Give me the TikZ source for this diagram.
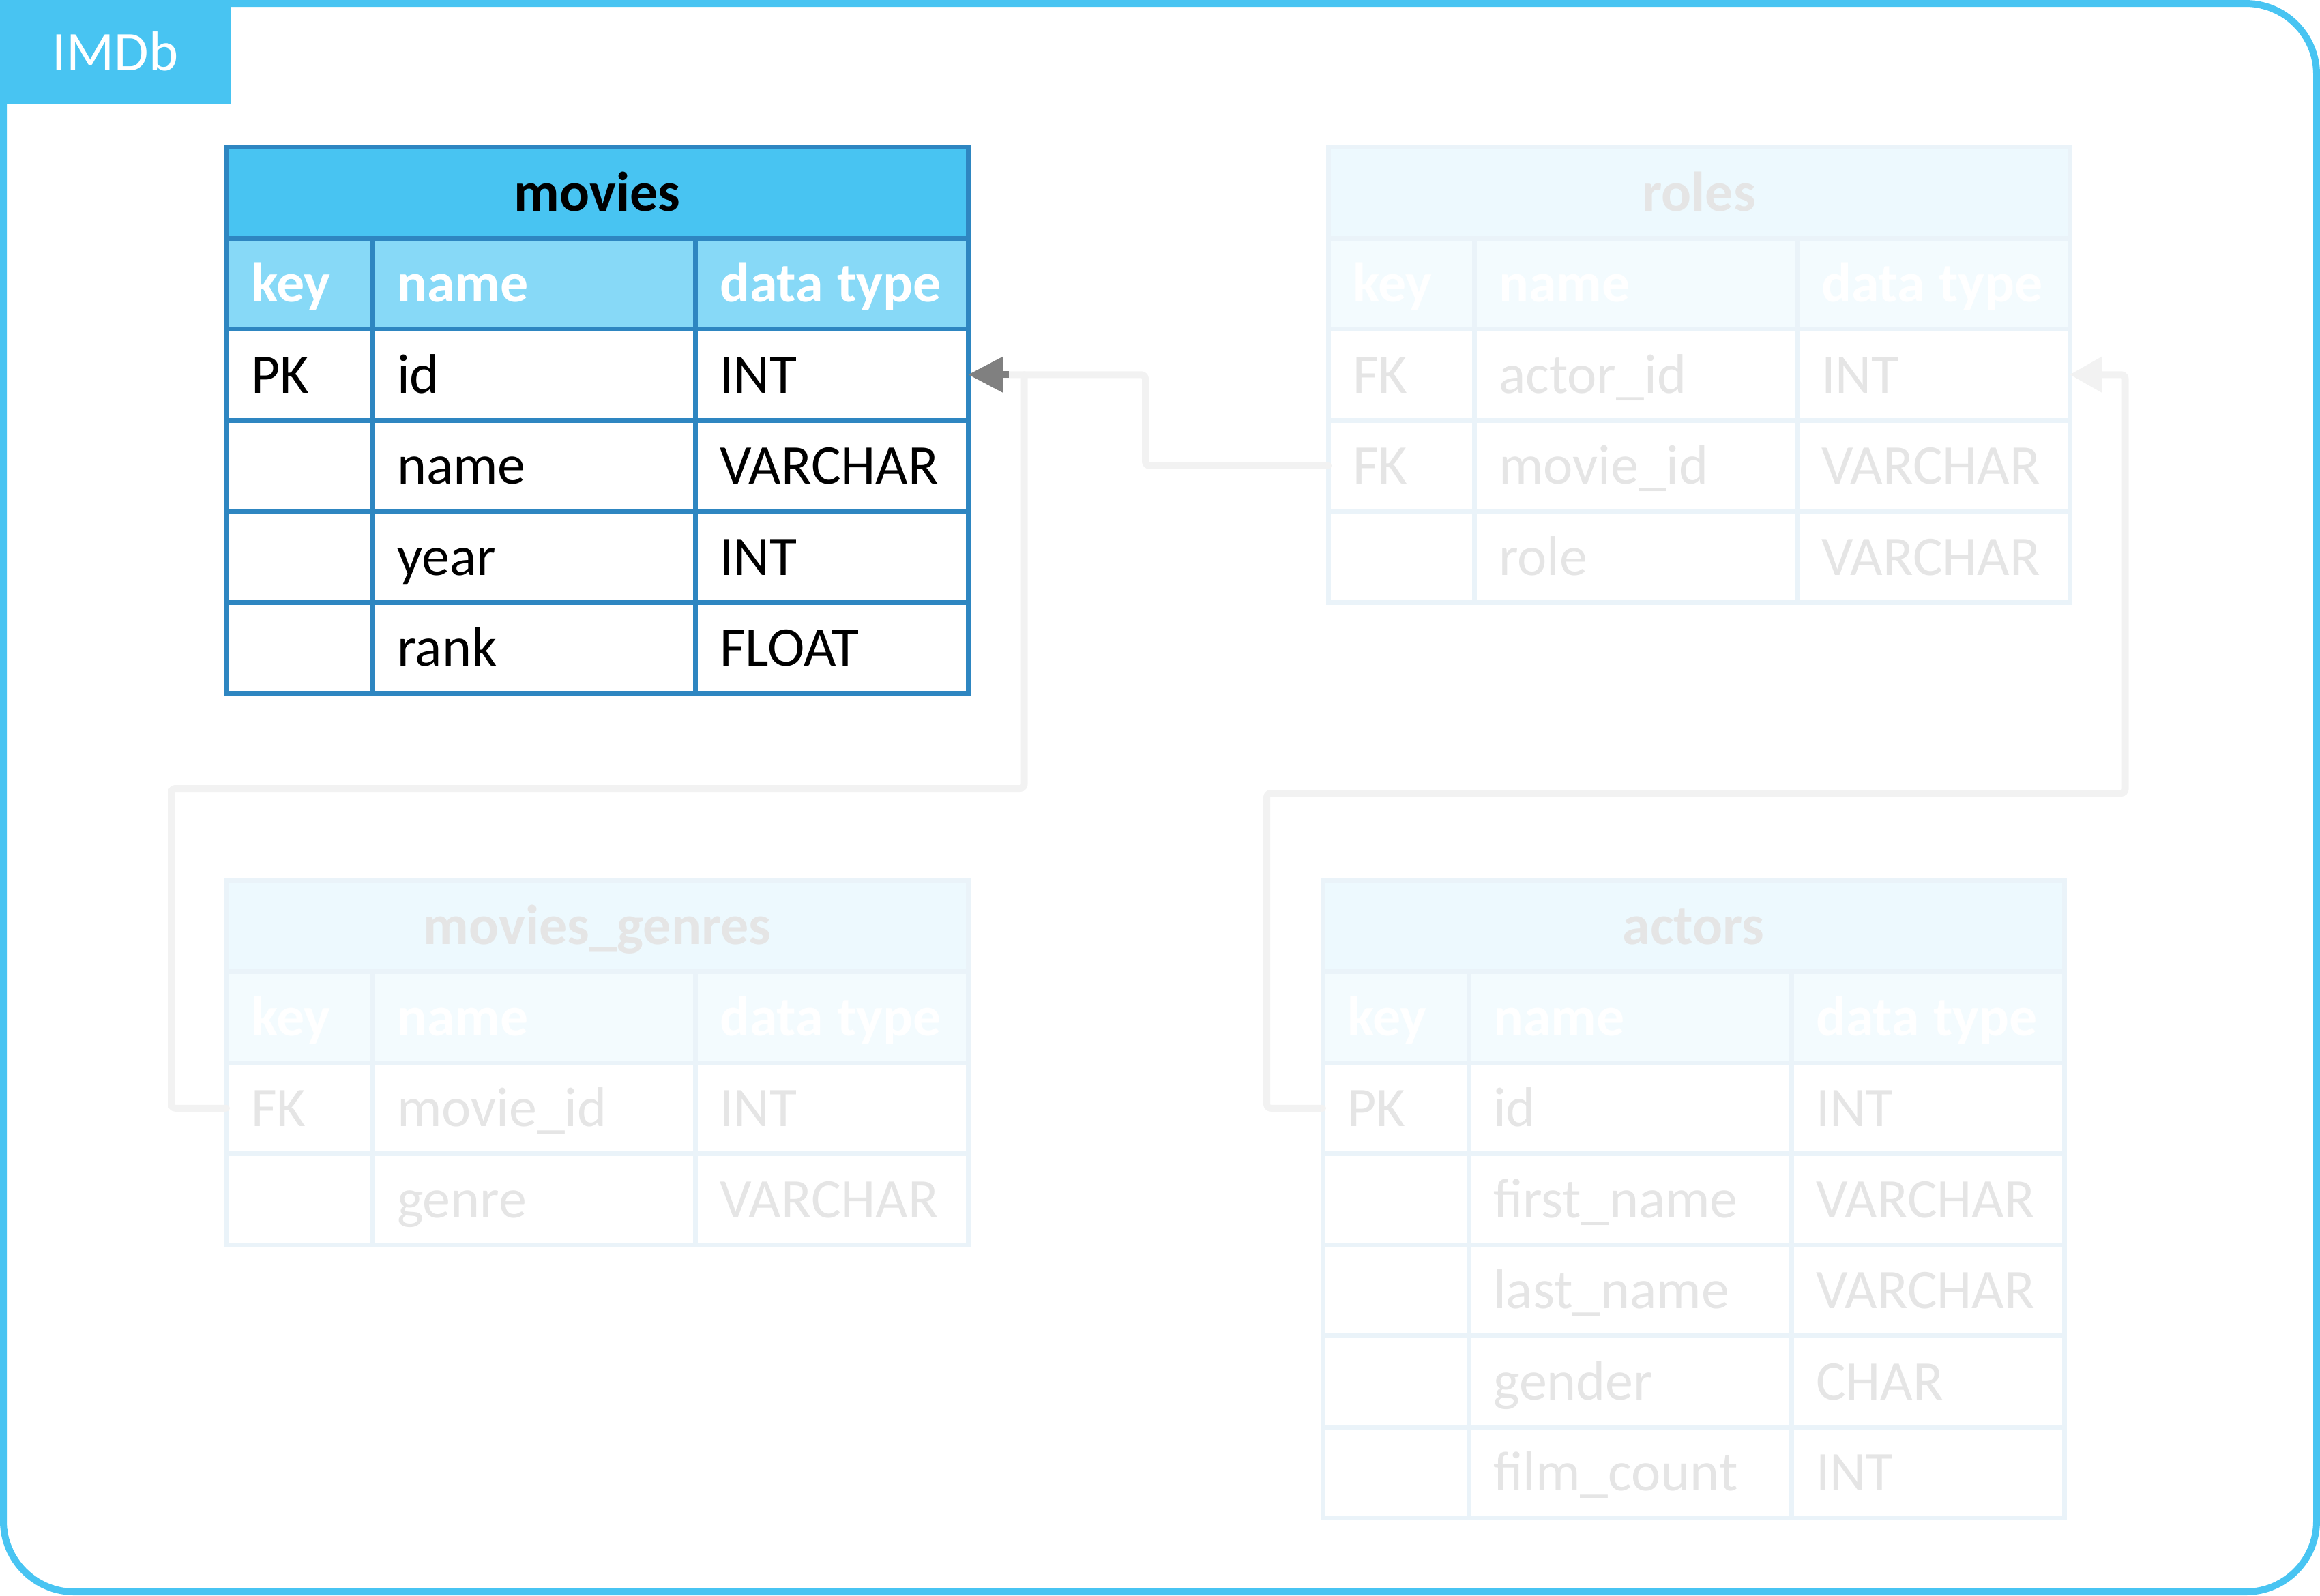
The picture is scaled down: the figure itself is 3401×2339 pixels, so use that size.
\documentclass[tikz,border=0pt]{standalone}
\usepackage{fontspec}
\setmainfont{Carlito}
\usetikzlibrary{arrows.meta}
\definecolor{bordblue}{RGB}{46,134,193}
\definecolor{titlefill}{RGB}{72,196,242}
\definecolor{headfill}{RGB}{135,217,247}
\definecolor{framecol}{RGB}{72,196,242}
\definecolor{arrowgrey}{RGB}{128,128,128}
\definecolor{linkgrey}{RGB}{242,242,242}
\colorlet{fbord}{bordblue!10!white}
\colorlet{ftitle}{titlefill!10!white}
\colorlet{fhead}{headfill!10!white}
\colorlet{ftext}{black!10!white}
\newcommand{\dfont}{\fontsize{20.5pt}{24pt}\selectfont}
\tikzset{
  cellbase/.style={draw, line width=1.75pt, anchor=north west, minimum height=33.375pt,
    inner xsep=9pt, inner ysep=0pt, outer sep=0pt, text height=14.5pt, text depth=1pt, font=\dfont},
  keycol/.style={text width=35.5pt, align=left},
  namecol/.style={text width=100.25pt, align=left},
  typecol/.style={text width=82pt, align=left},
  titlecol/.style={text width=253.75pt, align=center},
  titleA/.style={draw=bordblue, fill=titlefill, text=black, font=\dfont\bfseries},
  headA/.style={draw=bordblue, fill=headfill, text=white, font=\dfont\bfseries},
  bodyA/.style={draw=bordblue, fill=white, text=black},
  titleB/.style={draw=fbord, fill=ftitle, text=ftext, font=\dfont\bfseries},
  headB/.style={draw=fbord, fill=fhead, text=white, font=\dfont\bfseries},
  bodyB/.style={draw=fbord, fill=white, text=ftext},
  link/.style={draw=linkgrey, line width=2.5pt, line cap=round, line join=round, rounded corners=1.5pt},
}
\newcommand{\ertable}[6]{%
  \node[cellbase, titlecol, title#4] (#1-title) at (#2,#3) {#5};
  \node[cellbase, keycol, head#4] (#1-h1) at ({#2},{#3+133.5}) {key};
  \node[cellbase, namecol, head#4] (#1-h2) at ({#2+214},{#3+133.5}) {name};
  \node[cellbase, typecol, head#4] (#1-h3) at ({#2+687},{#3+133.5}) {data\hspace{-1.8pt} type};
  \foreach \k/\n/\t [count=\i] in {#6} {
    \node[cellbase, keycol, body#4] (#1-\i-1) at ({#2},{#3+133.5*(\i+1)}) {\k};
    \node[cellbase, namecol, body#4] (#1-\i-2) at ({#2+214},{#3+133.5*(\i+1)}) {\n};
    \node[cellbase, typecol, body#4] (#1-\i-3) at ({#2+687},{#3+133.5*(\i+1)}) {\t};
  }%
}
\begin{document}
\begin{tikzpicture}[x=0.25pt, y=-0.25pt]
\useasboundingbox (0,0) rectangle (3401,2339);
\draw[framecol, line width=2.5pt, rounded corners=26pt] (5,5) rectangle (3396,2334);
\node[fill=framecol, anchor=north west, inner sep=0pt, outer sep=0pt, minimum width=84.5pt, minimum height=38.25pt,
  text=white, font=\dfont, text height=14.5pt, text depth=1pt] (imdb) at (0,0) {IMDb};

\ertable{movies}{332}{215.5}{A}{movies}{PK/id/INT, /name/VARCHAR, /year/INT, /rank/FLOAT}
\ertable{roles}{1947}{215.5}{B}{roles}{FK/actor\_id/INT, FK/movie\_id/VARCHAR, /role/VARCHAR}
\ertable{mg}{332}{1291}{B}{movies\_genres}{FK/movie\_id/INT, /genre/VARCHAR}
\ertable{act}{1939}{1291}{B}{actors}{PK/id/INT, /first\_name/VARCHAR, /last\_name/VARCHAR, /gender/CHAR, /film\_count/INT}

% connectors
\coordinate (j1) at ([xshift=20.625pt]movies-1-3.east);
\draw[link] (mg-1-1.west) -- ++(-81,0) -- ++(0,-468.75) -| (j1);
\draw[link, -{Triangle[length=12.75pt, width=12.5pt, color=arrowgrey]}]
  (roles-2-1.west) -- ++(-268,0) |- (movies-1-3.east);
\draw[arrowgrey, line width=2.5pt] ([xshift=12.5pt]movies-1-3.east) -- ++(10,0);
\draw[link, -{Triangle[length=11.75pt, width=12.5pt]}]
  (act-1-1.west) -- ++(-82,0) -- ++(0,-461.75) -| ([xshift=20.375pt]roles-1-3.east) -- (roles-1-3.east);
\end{tikzpicture}
\end{document}
